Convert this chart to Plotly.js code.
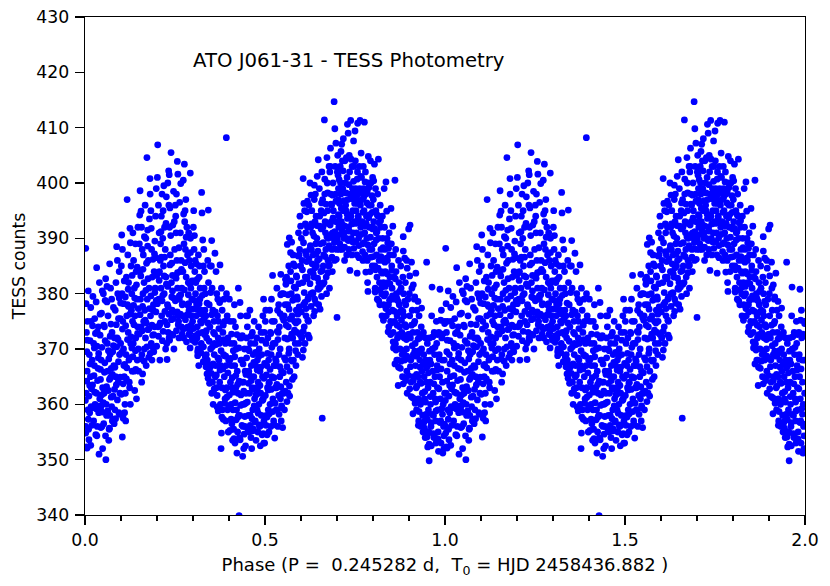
<!DOCTYPE html>
<html>
<head>
<meta charset="utf-8">
<script src="https://cdn.plot.ly/plotly-3.0.1.min.js"></script>
<style>html,body{margin:0;padding:0;background:#fff}</style>
</head>
<body>
<div id="chart" style="width:830px;height:586px"></div>
<script>
// phase and counts, one row per 0.05 of phase
var phaseRows = [
[.002,.003,.004,.005,.006,.003,.008,.002,.004,.006,.016,.010,.013,.011,.015,.012,.014,.017,.016,.022,.024,.026,.021,.028,.024,.030,.034,.032,.036,.033,.037,.0324,.039,.038,.041,.043,.045,.042,.046,.048,.049,.047,.044,.049,.027,.020,.007,.009,.031,.040],
[.051,.052,.0574,.053,.055,.058,.060,.062,.064,.066,.068,.0685,.070,.072,.074,.076,.078,.080,.082,.084,.086,.088,.090,.092,.094,.096,.098,.054,.059,.063,.067,.071,.075,.079,.083,.087,.091,.095,.099,.056,.061,.065,.069,.073,.077,.081,.085,.089,.093,.097],
[.1037,.102,.117,.125,.101,.103,.105,.107,.109,.111,.113,.115,.118,.120,.122,.124,.126,.128,.130,.132,.134,.136,.138,.140,.142,.144,.146,.148,.149,.104,.108,.112,.116,.119,.121,.123,.127,.129,.131,.133,.135,.137,.139,.141,.143,.145,.147,.110,.114,.106],
[.153,.1556,.172,.1806,.151,.152,.154,.156,.158,.160,.162,.164,.166,.168,.170,.174,.176,.178,.182,.184,.186,.188,.190,.192,.194,.196,.198,.199,.157,.159,.161,.163,.165,.167,.169,.171,.173,.175,.177,.179,.181,.183,.185,.187,.189,.191,.193,.195,.197,.1574],
[.202,.239,.2324,.208,.228,.247,.227,.201,.204,.206,.209,.211,.213,.215,.217,.219,.221,.223,.225,.229,.231,.233,.235,.237,.240,.242,.244,.246,.248,.249,.203,.205,.207,.210,.212,.214,.216,.218,.220,.222,.224,.226,.230,.234,.236,.238,.241,.243,.245,.2335],
[.2565,.276,.258,.2925,.273,.266,.282,.292,.251,.253,.255,.257,.259,.261,.263,.265,.267,.269,.271,.274,.277,.279,.281,.284,.286,.288,.290,.294,.296,.298,.252,.254,.260,.262,.264,.268,.270,.272,.275,.278,.280,.283,.285,.287,.289,.291,.293,.295,.297,.299],
[.324,.325,.3425,.3286,.342,.352,.301,.303,.305,.307,.309,.311,.313,.315,.317,.319,.321,.323,.327,.329,.331,.333,.335,.337,.339,.341,.343,.345,.347,.349,.302,.304,.306,.308,.310,.312,.314,.316,.318,.320,.322,.326,.330,.332,.334,.336,.338,.340,.344,.348],
[.375,.361,.352,.384,.378,.351,.353,.355,.357,.359,.362,.364,.366,.368,.370,.372,.374,.376,.379,.381,.383,.385,.387,.389,.391,.393,.395,.397,.399,.354,.356,.358,.360,.363,.365,.367,.369,.371,.373,.377,.380,.382,.386,.388,.390,.392,.394,.396,.398,.3926],
[.4167,.422,.438,.428,.426,.4306,.401,.403,.405,.407,.409,.411,.413,.415,.418,.420,.423,.425,.427,.429,.432,.434,.436,.440,.442,.444,.446,.448,.449,.402,.404,.406,.408,.410,.412,.414,.416,.419,.421,.424,.431,.433,.435,.437,.439,.441,.443,.445,.447,.430],
[.458,.496,.451,.453,.455,.457,.459,.461,.463,.465,.467,.469,.471,.473,.475,.477,.479,.481,.483,.485,.487,.489,.491,.493,.495,.497,.499,.452,.454,.456,.460,.462,.464,.466,.468,.470,.472,.474,.476,.478,.480,.482,.484,.486,.488,.490,.492,.494,.498,.4965],
[.527,.549,.521,.5436,.544,.501,.503,.505,.507,.509,.511,.513,.515,.517,.519,.522,.524,.526,.528,.530,.532,.534,.536,.538,.540,.542,.546,.548,.502,.504,.506,.508,.510,.512,.514,.516,.518,.520,.523,.525,.529,.531,.533,.535,.537,.539,.541,.543,.545,.547],
[.5675,.562,.574,.597,.558,.568,.5685,.551,.553,.555,.557,.559,.561,.563,.565,.567,.569,.571,.573,.575,.577,.579,.581,.583,.585,.587,.589,.591,.593,.595,.552,.554,.556,.560,.564,.566,.570,.572,.576,.578,.580,.582,.584,.586,.588,.590,.592,.594,.596,.599],
[.606,.6065,.625,.645,.648,.608,.616,.601,.603,.605,.607,.609,.611,.613,.615,.617,.619,.621,.623,.627,.629,.631,.633,.635,.637,.639,.641,.643,.647,.649,.602,.604,.610,.612,.614,.618,.620,.622,.624,.626,.628,.630,.632,.634,.636,.638,.640,.642,.644,.646,.650],
[.692,.665,.694,.697,.682,.672,.681,.659,.653,.700,.651,.652,.654,.655,.657,.658,.660,.661,.663,.664,.666,.667,.669,.670,.671,.673,.674,.676,.677,.679,.680,.683,.684,.686,.687,.689,.690,.691,.693,.695,.696,.698,.699,.656,.662,.668,.675,.678,.685,.688],
[.738,.729,.750,.731,.7176,.746,.713,.734,.736,.701,.703,.705,.707,.709,.711,.712,.714,.715,.716,.718,.719,.721,.722,.723,.725,.726,.727,.728,.730,.732,.733,.735,.737,.739,.740,.741,.742,.743,.744,.745,.747,.748,.749,.702,.704,.706,.708,.710,.720,.724],
[.764,.7575,.776,.767,.787,.786,.756,.780,.751,.752,.753,.754,.755,.757,.758,.759,.760,.761,.762,.763,.765,.766,.768,.769,.770,.771,.772,.773,.774,.775,.777,.778,.779,.781,.782,.783,.784,.785,.788,.789,.790,.791,.792,.793,.794,.795,.796,.797,.798,.799],
[.815,.804,.836,.831,.850,.838,.842,.801,.802,.803,.805,.806,.807,.808,.809,.810,.811,.812,.813,.814,.816,.817,.818,.819,.820,.821,.822,.823,.824,.825,.826,.827,.828,.829,.830,.832,.833,.834,.835,.837,.839,.840,.841,.843,.844,.845,.846,.847,.848,.849],
[.861,.8615,.855,.884,.8842,.8935,.899,.870,.866,.889,.851,.852,.853,.854,.856,.857,.858,.859,.860,.862,.863,.864,.865,.867,.868,.869,.871,.872,.873,.874,.875,.876,.877,.878,.879,.880,.881,.882,.883,.885,.886,.887,.888,.890,.891,.892,.893,.894,.895,.897],
[.903,.907,.919,.949,.910,.901,.902,.904,.905,.906,.908,.909,.911,.912,.913,.914,.915,.916,.917,.918,.920,.921,.922,.923,.924,.925,.926,.927,.928,.929,.930,.931,.932,.933,.934,.935,.936,.937,.938,.939,.940,.941,.942,.943,.944,.945,.946,.947,.948,.950],
[.956,.964,.986,.994,.951,.952,.953,.954,.955,.957,.958,.959,.960,.961,.962,.963,.965,.966,.967,.968,.969,.970,.971,.972,.973,.974,.975,.976,.977,.978,.979,.980,.981,.982,.983,.984,.985,.987,.988,.989,.990,.991,.992,.993,.995,.996,.997,.998,.999,.9995],
// dense parts of the band
[.001,.005,.009,.011,.014,.018,.019,.023,.025,.029,.033,.035,.037,.041,.044,.047,.006,.013,.021,.027,.031,.038,.043,.048,.002,.017,.026,.034,.042,.046],
[.051,.054,.057,.060,.063,.065,.068,.071,.074,.076,.079,.082,.085,.087,.090,.093,.096,.099,.052,.056,.061,.066,.070,.073,.078,.083,.088,.092,.095,.098],
[.101,.104,.107,.110,.112,.115,.118,.120,.123,.125,.128,.131,.133,.136,.138,.141,.143,.146,.148,.102,.106,.109,.113,.116,.121,.126,.130,.135,.140,.145],
[.151,.153,.156,.159,.161,.164,.167,.169,.172,.175,.178,.181,.183,.186,.189,.191,.194,.197,.199,.152,.155,.160,.165,.170,.174,.179,.184,.188,.193,.198],
[.201,.204,.206,.209,.212,.214,.217,.220,.222,.225,.228,.230,.233,.236,.239,.241,.244,.247,.249,.203,.207,.211,.216,.221,.226,.231,.235,.240,.243,.246],
[.251,.254,.257,.259,.262,.265,.268,.271,.273,.276,.279,.281,.284,.287,.289,.292,.295,.298,.253,.256,.261,.266,.270,.274,.278,.283,.288,.293,.297,.299],
[.301,.304,.307,.310,.312,.315,.318,.320,.323,.326,.329,.331,.334,.337,.339,.342,.345,.348,.303,.306,.309,.313,.317,.322,.327,.332,.336,.341,.346,.349],
[.351,.354,.356,.359,.362,.364,.367,.369,.372,.375,.378,.380,.383,.385,.388,.391,.394,.397,.352,.357,.360,.365,.370,.374,.379,.384,.387,.390,.395,.399],
[.401,.404,.406,.409,.412,.414,.417,.419,.422,.425,.428,.431,.433,.436,.439,.441,.444,.447,.403,.407,.411,.416,.420,.424,.427,.432,.437,.442,.446,.449],
[.451,.454,.456,.459,.462,.464,.467,.469,.472,.475,.478,.481,.483,.486,.489,.491,.494,.497,.452,.457,.461,.466,.470,.474,.479,.484,.488,.492,.495,.499],
[.501,.504,.506,.509,.512,.514,.517,.519,.522,.525,.528,.531,.533,.536,.539,.541,.544,.547,.503,.507,.511,.516,.521,.526,.529,.534,.538,.542,.546,.549],
[.551,.554,.556,.559,.561,.564,.566,.569,.572,.574,.577,.579,.582,.585,.587,.591,.594,.597,.552,.557,.562,.567,.571,.576,.581,.586,.589,.592,.595,.599],
[.601,.604,.606,.609,.612,.614,.617,.619,.622,.625,.628,.631,.633,.636,.639,.641,.644,.647,.649,.603,.607,.611,.616,.621,.626,.629,.634,.638,.642,.646],
[.651,.654,.656,.659,.662,.664,.667,.669,.672,.675,.678,.681,.683,.686,.689,.691,.694,.697,.699,.652,.657,.661,.666,.671,.674,.679,.684,.688,.693,.698],
[.701,.704,.706,.709,.712,.714,.717,.719,.722,.725,.728,.731,.733,.736,.739,.741,.744,.747,.749,.703,.707,.711,.716,.721,.726,.729,.734,.738,.743,.746],
[.751,.754,.756,.759,.761,.764,.767,.769,.772,.775,.778,.781,.783,.786,.789,.791,.794,.797,.799,.752,.757,.762,.766,.771,.774,.779,.784,.788,.793,.798],
[.801,.804,.806,.809,.812,.814,.817,.819,.822,.825,.828,.831,.833,.836,.839,.841,.844,.847,.849,.802,.807,.811,.816,.821,.826,.829,.834,.838,.843,.846],
[.851,.854,.856,.859,.862,.864,.867,.869,.872,.875,.878,.881,.883,.886,.889,.891,.894,.897,.899,.852,.857,.861,.866,.871,.874,.879,.884,.888,.893,.898],
[.901,.904,.906,.909,.912,.914,.917,.919,.922,.925,.928,.931,.933,.936,.939,.941,.944,.947,.949,.902,.907,.911,.916,.921,.926,.929,.934,.938,.943,.946],
[.951,.954,.956,.959,.961,.964,.967,.969,.972,.975,.978,.981,.983,.986,.989,.991,.994,.997,.999,.952,.957,.962,.966,.971,.974,.979,.984,.988,.993,.998],
// edges of the band that were still thin
[.895,.902,.888,.912,.916,.925,.935,.618,.628,.612,.637]
];
var countRows = [
[388.2,378.2,373,369.5,366,362,359,356,352.3,352.1,352.6,355.5,358.5,361.5,365,369,371.5,375,377.5,379.5,371,367,363.5,360,357,354.5,356,362,366.5,370.5,374,384.7,351,358.5,361,364.5,368,372.5,376.5,380.5,352,356,359.5,363,375.5,368,375,380.5,378.5,382],
[380,356.5,382.7,362,367.5,350,358,371,376,353.5,364.5,385.4,369,374.5,379,357,361.5,367,372,377,382,388.5,386,364,358.5,369,375.5,374,360,366,355.5,381,373,377.5,359,363.5,380,384,371,371.5,378.5,362.5,358,366.5,369.5,356.5,365,372,375.5,362],
[354.1,390.6,397,391.8,385,380,375,370,365,360,357,383,378,373,368,363,360,385,380,375,371,366,362.5,389,384,379,374,370,366,388,367,362,376,387,382,364,371,377,366,391,386,381,376,372,361,368,392,358.5,369,357.5],
[398.6,394.9,404.6,400.8,389,384,379,374,369,365.5,387,382,377,372,367,391.5,386,381,376,371,368,372.5,378,384,389.5,394,399,370.5,392,388,380,375,370,396,390,385.5,379,373.5,368.5,393.5,398,395,388,383,377,369.5,374,381,386.5,364],
[406.9,405.5,402.2,368,368.1,370,371,401,396,391,386,381,376,371.5,395,399.5,392,388,383,378,373,396,392,387,382,377,372.5,398.5,393,388,374,379,384,389,394,398,390,385,380,375,370,397.5,400,401.5,395.5,390.5,385.5,380.5,375.5,372],
[403.9,403.4,401.6,401.8,400.5,399.9,371.3,370.2,396,391,386,381,376,372,396.5,391,386,381,376,372,393,388,383,378,374,391,386,381,376,372,394,398,375,379,384,374,378,384,389,395,397,392,387,382,377,373,390,385,379,375],
[398.3,394.6,395.1,367.7,364.7,362,392,388,384,380,376,372,369.5,387,383,379,375,371,389.7,385,381,377,373,369,365.5,386,382,378,374,370,395,390.5,386,382,378,374,370,367,385,381,377,373,388,384,380,376,372,368,366,385],
[385.2,387.3,389.6,357.3,352,385,381,377,373,369,365,384,380,376,372,368,364,360,381,377,373,369,365,361,357,380,376,372,368,364,360,375,371,367,363,359.5,379,375,371,367,363,359,379,375,371,367,363,359,355,408.2],
[353,351.2,350.6,339.9,381,378.4,379,375,371,367,363,359,355.5,378,374,370,366,362,358,354,376,372,368,364,360,356,352.5,376,372,368,364,360,356.5,353.5,375,371,367,363,359,355,372,368,364,360,356,352,370,366,362,358],
[377,379,374,370,366,362,358,354,352,373,369,365,361,357,353.5,372,368,364,360,356,352.5,373,369,365,361,357,353,376,358,355,371,367,363,359,355.5,375,371,367,363,359,355,374,370,366,362,358,354.5,376,373,353],
[353.9,355.8,383.3,379.8,383.5,375,371,367,363,359,355,377,373,369,365,361,357,375,371,367,363,359,356,378,374,370,366,362,377,358,354.5,372,368,364,360,356,379,375,371,367,363,359,381,377,373,369,365,361,357,380],
[390.1,388.9,389.3,394,381.7,363.3,361.5,380,376,372,368,364,360.5,378,374,370,366,384,380,376,372,368,365,385,381,377,373,369,391,387,362,359,378,383,362,385,372,368,364.5,387,379,375,371,367,383,379,375,371,388,385],
[400.8,369.8,400,401.2,404.2,396.3,394.8,390,386,382,378,374,371,391,387,383,379,375,372,392,388,384,380,376,397,393,389,385,381,378,372,368.5,395,383,376,392,372.5,396,388,384,380,395,391,387,383,379,398,394,390,386,382],
[414.7,411.4,409.8,407.2,406.3,404.6,403,357.5,377.2,375.7,399,394,389,384,379.5,402,397,392,387,382,398,393,388,383,380,400,395,390,385,381,402,398,393,388,384,400,395,390,386,403,398,393,388,395,385,391,386,403,396,391],
[411.3,410.6,409.4,409,408,407.6,407,405,384.2,402,397,392,388,403,398,393,388,404,399,395,390,386,404,400,395,390,387,401,397,392,388,402,398,394,390,387,403,399,395,391,403,398,393,405,399,394,389,400,391,396],
[411.3,410.8,411,405.4,404.8,380.4,383.7,383.9,404,399,395,391,387,402,398,394,390,386.5,403,399,396,392,401,397,393,389,386,403,399,395,391,387,402,398,394,390,386,382,400,396,392,388,384,404,400,396,392,388,385,401],
[404.3,403.4,400.2,399,395.4,394.9,373.1,397,393,389,385,381,399,395,391,387,383,379,398,394,390,386,382,378,396,392,388,384,380,376,394,390,386,382,378,392,388,384,380,376,390,386,382,378,374,391,387,383,379,375],
[400.5,370.8,392.2,390.3,387.7,386,391.7,363.4,368,364.8,389,385,381,377,373,387,383,379,375,371,388,384,380,376,372,368,386,382,378,374,370,366.5,385,381,377,373,369,365,383,380,376,372,368,382,378,374,370,366,362,379],
[392.4,385.7,383.7,385.7,361.2,380,376,372,368,364,381,377,373,369,365,361,379,375,371,367,363,359,377,373,369,365,361,357,376,372,368,364,360,356,374,370,366,362,358,355,373,369,365,361,357,354,372,368,364,354.1],
[349.8,381.2,380.8,351.2,371,367,363,359,355,372,368,364,360,356,352.5,376,370,366,362,358,354,373,369,365,361,357,353,375,371,367,363,359,355,351.5,373,369,365,361,357,353,377,372,368,364,360,356,352,368,362,375],
// dense parts of the band
[360.7,364.2,357.3,353.6,367.3,362.8,356.2,359.4,365.2,372.8,354.3,364.3,368.4,359.7,355.8,370.3,371.6,363.4,374.2,362.2,359.2,369.2,366.3,358.6,354.8,359.6,370.2,373.1,376.3,361.7],
[360.3,365.8,354.3,363.2,358.8,369.7,355.7,364.8,359.6,365.4,370.6,362.7,357.4,374.4,360.8,367.7,358.2,378.3,374.3,378.8,381.3,368.2,372.3,361.3,357.2,366.7,370.4,371.7,379.2,364.9],
[361.8,373.6,378.2,367.2,379.4,364.6,371.7,380.8,368.4,376.3,372.2,383.3,368.6,374.4,379.2,366.3,381.6,372.8,377.3,369.4,363.7,382.3,374.2,366.6,377.7,389.2,370.2,377.9,369.7,384.8],
[372.7,376.2,368.2,373.3,384.4,367.8,375.2,380.6,370.4,382.7,373.7,369.2,379.6,374.3,386.2,372.6,380.2,376.7,383.3,394.2,383.2,377.7,390.3,374.7,388.6,377.3,391.8,370.3,387.2,378.8],
[378.2,372.3,382.4,374.7,386.6,378.7,373.2,383.2,376.8,392.7,374.4,381.3,376.3,385.2,372.7,379.4,392.4,376.6,383.2,383.7,374.3,391.2,379.7,386.6,381.7,377.6,371.6,375.3,383.3,379.2],
[378.7,373.3,383.8,374.4,379.6,376.3,384.4,378.2,373.6,380.7,375.3,390.2,376.2,379.8,372.6,381.7,374.3,377.2,382.8,376.7,388.3,379.8,372.7,394.4,385.6,373.8,378.2,387.4,382.3,371.6],
[373.7,378.8,372.4,377.2,382.6,372.8,376.4,369.6,374.7,379.7,370.4,375.3,368.6,373.3,378.3,367.2,371.4,366.7,382.3,371.2,385.4,368.8,378.2,369.3,376.2,372.6,366.8,374.7,363.8,380.2],
[365.6,370.4,367.3,362.8,376.7,370.8,361.6,368.4,373.7,366.2,369.7,357.7,366.4,371.7,360.2,368.7,361.3,365.7,376.2,362.2,372.7,365.3,358.8,378.4,354.8,374.3,368.8,362.6,375.2,359.7],
[361.7,368.3,357.3,364.8,369.7,353.8,360.3,365.2,372.6,357.7,364.2,353.6,361.7,356.2,367.3,362.4,357.8,365.4,355.3,372.7,362.2,368.6,357.2,363.6,370.2,359.8,372.4,354.6,360.2,368.4],
[360.4,363.8,369.7,356.2,364.3,357.4,362.7,367.6,356.8,361.7,366.2,358.4,368.7,363.4,356.2,371.6,360.8,364.7,355.6,365.2,372.3,355.2,359.7,369.4,362.8,356.3,366.7,360.7,354.7,367.4],
[361.6,365.3,357.7,362.6,358.3,366.3,362.7,370.3,358.7,364.8,360.2,367.8,363.6,371.7,358.2,366.8,363.2,359.4,356.2,369.2,363.8,372.8,360.3,356.3,368.2,373.2,361.6,376.4,359.7,375.7],
[365.7,368.4,362.4,374.3,366.8,379.8,369.2,375.4,382.3,372.7,378.8,385.4,373.4,369.7,383.2,376.3,381.8,372.6,375.2,382.6,371.8,377.2,387.4,367.8,381.2,374.7,379.4,386.8,377.6,392.2],
[376.7,384.3,373.2,380.2,387.6,377.3,382.7,375.2,386.3,381.8,377.7,385.4,380.2,390.4,384.7,378.3,392.3,387.7,380.8,372.2,389.2,378.4,385.8,379.4,388.7,392.6,383.6,376.8,387.2,382.8],
[386.3,381.2,391.7,384.2,389.2,394.6,386.7,396.2,390.3,383.8,388.7,392.4,396.2,386.6,393.7,388.2,391.2,396.7,390.2,392.2,396.4,381.7,400.7,392.7,398.2,385.2,390.7,397.8,389.3,386.2],
[389.7,394.3,400.6,390.7,395.4,391.6,402.2,396.8,392.2,398.2,394.4,389.6,399.7,393.7,404.3,392.6,397.2,388.2,396.3,401.4,396.3,405.7,392.4,388.4,404.6,393.6,391.3,397.2,389.4,400.3],
[392.7,397.2,400.7,393.6,388.7,396.6,390.7,398.3,394.7,389.2,400.2,392.7,396.4,388.8,399.2,394.3,386.6,397.7,391.7,389.4,396.3,392.8,401.2,387.6,397.4,392.2,398.4,393.7,390.2,394.7],
[386.7,391.8,380.3,389.7,394.2,384.6,392.8,380.7,386.7,381.2,388.3,379.6,385.7,377.3,383.6,389.2,376.7,381.8,372.6,400.4,384.3,391.2,378.7,393.2,383.7,375.2,381.3,386.4,388.2,378.8],
[374.7,379.6,371.3,376.8,382.7,369.8,374.3,378.7,372.6,376.7,367.8,372.3,376.8,369.7,374.4,364.3,368.7,372.6,365.2,384.2,370.2,367.3,379.2,366.7,380.4,375.2,363.7,378.6,371.7,368.3],
[372.7,366.8,361.4,370.6,364.3,374.6,360.2,368.7,363.3,371.8,358.7,366.7,372.2,360.6,367.2,356.7,362.3,358.2,366.6,362.8,374.3,358.3,369.6,365.4,356.2,369.7,363.8,372.4,355.7,360.4],
[357.3,365.7,352.8,361.4,367.3,358.2,354.7,363.7,370.3,358.8,366.2,353.7,362.8,356.7,366.4,359.2,372.7,354.3,374.6,352.3,369.6,356.7,372.2,354.6,360.4,372.6,368.2,375.2,358.2,356.4],
// edges of the band that were still thin
[384.6,383.2,386.4,381.6,379.4,378.6,377.4,396.7,397.8,392.6,399.6]
];
var phases = [], counts = [];
phaseRows.forEach(function(row, r) {
    row.forEach(function(p, i) {
        phases.push(p);
        counts.push(countRows[r][i]);
    });
});

// the same cycle is plotted twice, phase 0-1 and again as 1-2
var x = phases.concat(phases.map(function(p) { return p + 1; }));
var y = counts.concat(counts);

var data = [{
    type: "scatter",
    mode: "markers",
    x: x,
    y: y,
    marker: {color: "#0000ff", size: 6.8, line: {width: 0}},
    hoverinfo: "skip"
}];

var tickFont = {family: "DejaVu Sans", size: 17.3, color: "#000"};

var layout = {
    width: 830,
    height: 586,
    margin: {l: 85, r: 25, t: 17, b: 71, pad: 0},
    showlegend: false,
    paper_bgcolor: "#fff",
    plot_bgcolor: "#fff",
    xaxis: {
        range: [0, 2],
        tickmode: "array",
        tickvals: [0, 0.5, 1, 1.5, 2],
        ticktext: ["0.0", "0.5", "1.0", "1.5", "2.0"],
        ticks: "outside",
        ticklen: 9,
        tickwidth: 1.2,
        tickcolor: "#000",
        tickfont: tickFont,
        minor: {dtick: 0.1, ticks: "outside", ticklen: 5, tickwidth: 1.2, tickcolor: "#000", showgrid: false},
        showline: true,
        linecolor: "#000",
        linewidth: 1.2,
        mirror: true,
        showgrid: false,
        zeroline: false,
        title: {
            text: "Phase (P =\u00A0 0.245282 d,\u00A0 T<sub>0</sub> = HJD 2458436.882 )",
            font: {family: "DejaVu Sans", size: 18, color: "#000"},
            standoff: 9
        }
    },
    yaxis: {
        range: [340, 430],
        tick0: 340,
        dtick: 10,
        ticks: "outside",
        ticklen: 9,
        tickwidth: 1.2,
        tickcolor: "#000",
        tickfont: tickFont,
        ticklabelstandoff: 2,
        showline: true,
        linecolor: "#000",
        linewidth: 1.2,
        mirror: true,
        showgrid: false,
        zeroline: false,
        title: {text: "TESS counts", font: tickFont, standoff: 6}
    },
    annotations: [{
        text: "ATO J061-31 - TESS Photometry",
        xref: "x",
        yref: "y",
        x: 0.294,
        y: 420.8,
        xanchor: "left",
        yanchor: "bottom",
        yshift: -6,
        showarrow: false,
        font: {family: "DejaVu Sans", size: 19.7, color: "#000"}
    }]
};

Plotly.newPlot("chart", data, layout, {displayModeBar: false, staticPlot: true});
</script>
</body>
</html>
